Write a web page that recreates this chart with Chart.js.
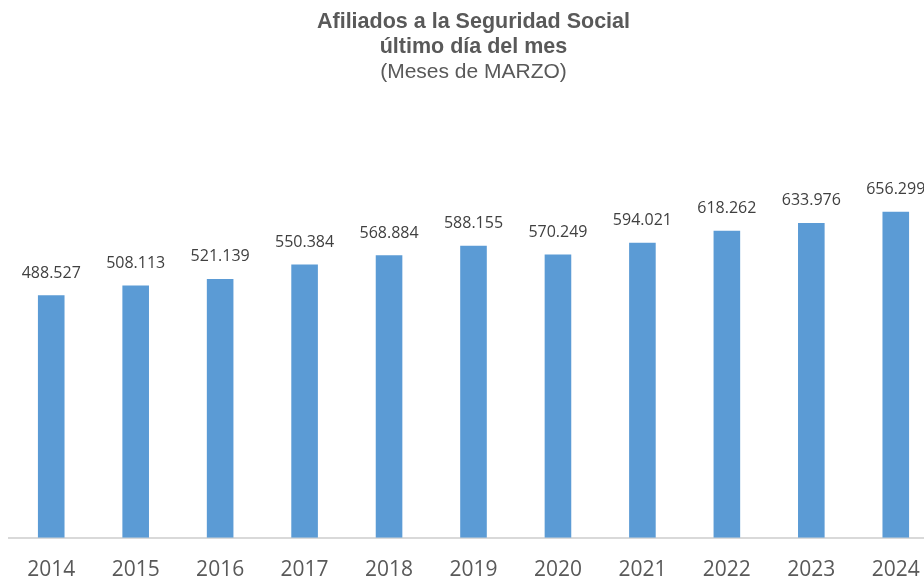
<!DOCTYPE html>
<html>
<head>
<meta charset="utf-8">
<script src="https://cdn.jsdelivr.net/npm/chart.js@4"></script>
<style>
  html, body { margin: 0; padding: 0; background: #fff; overflow: hidden; }
  #wrap { width: 924px; height: 577px; overflow: hidden; }
</style>
</head>
<body>
<div id="wrap"><canvas id="barChart" width="952" height="605"></canvas></div>
<script>
const years = ['2014','2015','2016','2017','2018','2019','2020','2021','2022','2023','2024'];
const afiliados = [488527, 508113, 521139, 550384, 568884, 588155, 570249, 594021, 618262, 633976, 656299];
const titleLines = ['Afiliados a la Seguridad Social', 'último día del mes'];
const subtitleText = '(Meses de MARZO)';

// miles con punto, como en el original
const fmt = v => String(v).replace(/\B(?=(\d{3})+(?!\d))/g, '.');

const valueLabels = {
  id: 'valueLabels',
  afterDatasetsDraw(chart) {
    const ctx = chart.ctx;
    const meta = chart.getDatasetMeta(0);
    ctx.save();
    ctx.font = '16px "Open Sans"';
    ctx.fillStyle = '#404040';
    ctx.textAlign = 'center';
    ctx.textBaseline = 'middle';
    meta.data.forEach((bar, i) => {
      ctx.fillText(fmt(afiliados[i]), bar.x, bar.y - 22);
    });
    ctx.restore();
  }
};

new Chart(document.getElementById('barChart'), {
  type: 'bar',
  data: {
    labels: years,
    datasets: [{ data: afiliados, backgroundColor: '#5b9bd5', barPercentage: 0.63, categoryPercentage: 0.5 }]
  },
  options: {
    responsive: false,
    animation: false,
    devicePixelRatio: 1,
    layout: { padding: { left: 9, right: 14, top: 0, bottom: 2 } },
    plugins: {
      legend: { display: false },
      tooltip: { enabled: false },
      title: {
        display: true,
        text: titleLines,
        color: '#595959',
        font: { family: '"Liberation Sans", Arial', size: 21.5, weight: 'bold', lineHeight: 1.16 },
        padding: { top: 10, bottom: 0 }
      },
      subtitle: {
        display: true,
        text: subtitleText,
        color: '#595959',
        font: { family: '"Liberation Sans", Arial', size: 21, weight: 'normal', lineHeight: 1.2 },
        padding: { top: 0, bottom: 105 }
      }
    },
    scales: {
      x: {
        grid: { display: false, drawTicks: false },
        border: { display: true, color: '#d9d9d9', width: 2 },
        ticks: { color: '#595959', font: { family: '"Open Sans"', size: 21 }, padding: 20 }
      },
      y: { display: false, min: 0, max: 700000 }
    }
  },
  plugins: [valueLabels]
});
</script>
</body>
</html>
